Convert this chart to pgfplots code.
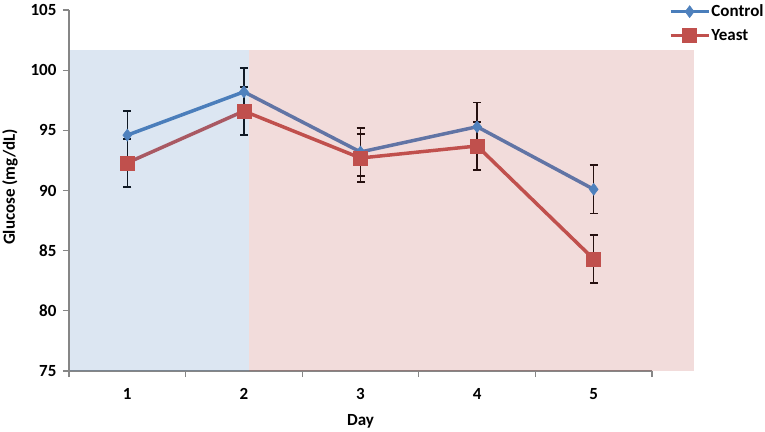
\documentclass[border=0pt]{standalone}
\usepackage{pgfplots}
\pgfplotsset{compat=1.18}
\usepackage{fontspec}
\setmainfont{Carlito}
\definecolor{ctrlline}{HTML}{4A7EBB}
\definecolor{ctrlmark}{HTML}{4F81BD}
\definecolor{yeast}{HTML}{C0504D}
\definecolor{axgray}{HTML}{868686}
\definecolor{xlblue}{HTML}{4F81BD}
\definecolor{xlred}{HTML}{C0504D}
\begin{document}
\begin{tikzpicture}
\path[use as bounding box] (-69bp,-61bp) rectangle (696bp,371bp);
\begin{axis}[
  at={(0,0)}, anchor=south west,
  scale only axis, width=583bp, height=361bp,
  xmin=0.5, xmax=5.5, ymin=75, ymax=105,
  clip=false,
  axis lines*=left,
  axis line style={axgray, line width=1.3bp},
  every tick/.style={axgray, line width=1.3bp},
  tick align=outside,
  major tick length=6bp, minor tick length=6bp,
  xtick={1,2,3,4,5},
  major x tick style={draw=none},
  minor xtick={0.5,1.5,2.5,3.5,4.5,5.5},
  ytick={75,80,85,90,95,100,105},
  /pgf/number format/assume math mode=true,
  tick label style={font=\fontsize{17bp}{20bp}\selectfont\bfseries, black},
  xticklabel style={yshift=-8bp},
  yticklabel style={xshift=-3bp},
  xlabel={Day}, ylabel={Glucose (mg/dL)},
  label style={font=\fontsize{17bp}{20bp}\selectfont\bfseries, black},
  xlabel style={at={(axis description cs:0.5,-0.1385)}, anchor=center},
  ylabel style={at={(axis description cs:-0.1012,0.51)}, anchor=center, rotate=0},
  legend style={at={(1.029,1.019)}, anchor=north west, draw=none, fill=none,
    inner sep=0pt, outer sep=0pt, row sep=7bp,
    font=\fontsize{17bp}{20bp}\selectfont\bfseries,
    nodes={inner sep=1bp, text height=12bp, text depth=3bp}},
  legend cell align=left,
  legend image code/.code={%
    \draw[mark repeat=2,mark phase=2,#1] plot coordinates {(0bp,0bp) (19bp,0bp) (38bp,0bp)};},
  error bars/error bar style={black, line width=1.5bp},
  error bars/error mark options={black, rotate=90, mark size=4bp, line width=1.5bp},
]
\addplot[ctrlline, line width=3.5bp, mark=diamond*, mark size=6bp,
  mark options={fill=ctrlmark, draw=ctrlmark, line width=0.5bp},
  error bars/.cd, y dir=both, y explicit]
  table[x=x, y=y, y error=e] {
x y e
1 94.6 2.0
2 98.2 2.0
3 93.2 2.0
4 95.3 2.0
5 90.1 2.0
};
\addlegendentry{Control}
\addplot[yeast, line width=3.5bp, mark=square*, mark size=7bp,
  mark options={fill=yeast, draw=yeast, line width=0.5bp},
  error bars/.cd, y dir=both, y explicit]
  table[x=x, y=y, y error=e] {
x y e
1 92.3 2.0
2 96.6 2.0
3 92.7 2.0
4 93.7 2.0
5 84.3 2.0
};
\addlegendentry{Yeast}
\addplot[forget plot, draw=none, fill=xlblue, fill opacity=0.2]
  coordinates {(0.51,75) (2.047,75) (2.047,101.67) (0.51,101.67)};
\addplot[forget plot, draw=none, fill=xlred, fill opacity=0.2]
  coordinates {(2.047,75) (5.863,75) (5.863,101.67) (2.047,101.67)};
\end{axis}
\end{tikzpicture}
\end{document}
